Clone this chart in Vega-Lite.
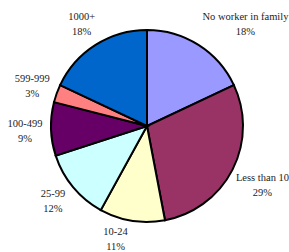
{
  "$schema": "https://vega.github.io/schema/vega-lite/v6.json",
  "width": 284,
  "height": 252,
  "autosize": {"type": "none"},
  "padding": {"left": 5, "top": 0, "right": 0, "bottom": 0},
  "background": "white",
  "view": {"stroke": null},
  "data": {
    "values": [
      {"cat": "No worker in family", "pct": 18, "order": 1, "label": "No worker in family\n18%"},
      {"cat": "Less than 10", "pct": 29, "order": 2, "label": "Less than 10\n29%"},
      {"cat": "10-24", "pct": 11, "order": 3, "label": "10-24\n11%"},
      {"cat": "25-99", "pct": 12, "order": 4, "label": "25-99\n12%"},
      {"cat": "100-499", "pct": 9, "order": 5, "label": "100-499\n9%"},
      {"cat": "599-999", "pct": 3, "order": 6, "label": "599-999\n3%"},
      {"cat": "1000+", "pct": 18, "order": 7, "label": "1000+\n18%"}
    ]
  },
  "encoding": {
    "theta": {"field": "pct", "type": "quantitative", "stack": true},
    "order": {"field": "order", "type": "quantitative"}
  },
  "layer": [
    {
      "mark": {"type": "arc", "outerRadius": 96, "stroke": "black", "strokeWidth": 2},
      "encoding": {
        "color": {
          "field": "cat",
          "type": "nominal",
          "scale": {
            "domain": ["No worker in family", "Less than 10", "10-24", "25-99", "100-499", "599-999", "1000+"],
            "range": ["#9999FF", "#993366", "#FFFFCC", "#CCFFFF", "#660066", "#FF8080", "#0066CC"]
          },
          "legend": null
        }
      }
    },
    {
      "mark": {"type": "text", "radius": 122, "dy": -6, "font": "Liberation Serif", "fontSize": 10.5, "lineBreak": "\n", "lineHeight": 15, "color": "#222222"},
      "encoding": {
        "detail": {"field": "cat", "type": "nominal"},
        "text": {"condition": {"test": "datum.cat === '100-499' || datum.cat === '599-999' || datum.cat === '1000+'", "field": "label"}, "value": ""}
      }
    },
    {
      "mark": {"type": "text", "radius": 122, "dy": -10, "font": "Liberation Serif", "fontSize": 10.5, "lineBreak": "\n", "lineHeight": 15, "color": "#222222"},
      "encoding": {
        "detail": {"field": "cat", "type": "nominal"},
        "text": {"condition": {"test": "datum.cat === '25-99'", "field": "label"}, "value": ""}
      }
    },
    {
      "mark": {"type": "text", "radius": 124, "dx": 32, "dy": -4, "font": "Liberation Serif", "fontSize": 10.5, "lineBreak": "\n", "lineHeight": 15, "color": "#222222"},
      "encoding": {
        "detail": {"field": "cat", "type": "nominal"},
        "text": {"condition": {"test": "datum.cat === 'No worker in family'", "field": "label"}, "value": ""}
      }
    },
    {
      "mark": {"type": "text", "radius": 124, "dx": 5, "dy": -4, "font": "Liberation Serif", "fontSize": 10.5, "lineBreak": "\n", "lineHeight": 15, "color": "#222222"},
      "encoding": {
        "detail": {"field": "cat", "type": "nominal"},
        "text": {"condition": {"test": "datum.cat === 'Less than 10'", "field": "label"}, "value": ""}
      }
    },
    {
      "mark": {"type": "text", "radius": 124, "dx": -12, "dy": -16, "font": "Liberation Serif", "fontSize": 10.5, "lineBreak": "\n", "lineHeight": 15, "color": "#222222"},
      "encoding": {
        "detail": {"field": "cat", "type": "nominal"},
        "text": {"condition": {"test": "datum.cat === '10-24'", "field": "label"}, "value": ""}
      }
    }
  ]
}
